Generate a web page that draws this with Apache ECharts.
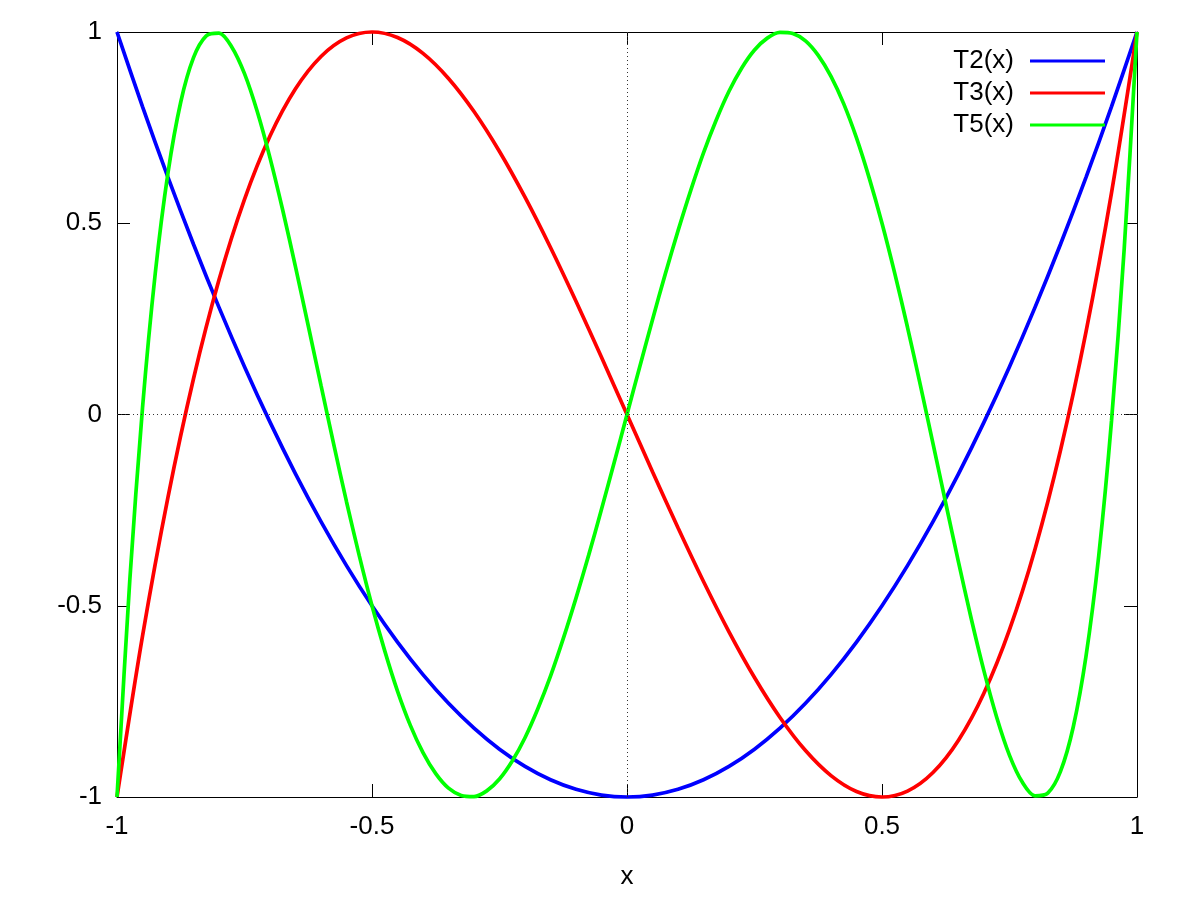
<!DOCTYPE html>
<html>
<head>
<meta charset="utf-8">
<script src="https://cdn.jsdelivr.net/npm/echarts@6/dist/echarts.min.js"></script>
<style>html,body{margin:0;padding:0;background:#fff}#c{width:1200px;height:900px}</style>
</head>
<body>
<div id="c"></div>
<script>
// Sample positions (x) and values
const xCoarse = [-1,-0.95,-0.9,-0.85,-0.8,-0.75,-0.7,-0.65,-0.6,-0.55,-0.5,-0.45,-0.4,-0.35,-0.3,-0.25,-0.2,-0.15,-0.1,-0.05,0,
  0.05,0.1,0.15,0.2,0.25,0.3,0.35,0.4,0.45,0.5,0.55,0.6,0.65,0.7,0.75,0.8,0.85,0.9,0.95,1];
const t2Values = [1,0.805,0.62,0.445,0.28,0.125,-0.02,-0.155,-0.28,-0.395,-0.5,-0.595,-0.68,-0.755,-0.82,-0.875,-0.92,-0.955,-0.98,-0.995,-1,
  -0.995,-0.98,-0.955,-0.92,-0.875,-0.82,-0.755,-0.68,-0.595,-0.5,-0.395,-0.28,-0.155,-0.02,0.125,0.28,0.445,0.62,0.805,1];
const t3Values = [-1,-0.5795,-0.216,0.0935,0.352,0.5625,0.728,0.8515,0.936,0.9845,1,0.9855,0.944,0.8785,0.792,0.6875,0.568,0.4365,0.296,0.1495,0,
  -0.1495,-0.296,-0.4365,-0.568,-0.6875,-0.792,-0.8785,-0.944,-0.9855,-1,-0.9845,-0.936,-0.8515,-0.728,-0.5625,-0.352,-0.0935,0.216,0.5795,1];
const xFine = [-1,-0.975,-0.95,-0.925,-0.9,-0.875,-0.85,-0.825,-0.8,-0.775,-0.75,-0.725,-0.7,-0.675,-0.65,-0.625,-0.6,-0.575,-0.55,-0.525,
  -0.5,-0.475,-0.45,-0.425,-0.4,-0.375,-0.35,-0.325,-0.3,-0.275,-0.25,-0.225,-0.2,-0.175,-0.15,-0.125,-0.1,-0.075,-0.05,-0.025,0,
  0.025,0.05,0.075,0.1,0.125,0.15,0.175,0.2,0.225,0.25,0.275,0.3,0.325,0.35,0.375,0.4,0.425,0.45,0.475,
  0.5,0.525,0.55,0.575,0.6,0.625,0.65,0.675,0.7,0.725,0.75,0.775,0.8,0.825,0.85,0.875,0.9,0.925,0.95,0.975,1];
const t5Values = [-1,-0.435,0.017,0.369,0.632,0.817,0.933,0.990,0.997,0.961,0.891,0.792,0.671,0.534,0.386,0.232,0.076,-0.078,-0.228,-0.369,
  -0.5,-0.618,-0.723,-0.812,-0.884,-0.939,-0.977,-0.996,-0.999,-0.984,-0.953,-0.906,-0.845,-0.770,-0.684,-0.586,-0.480,-0.367,-0.248,-0.125,0,
  0.125,0.248,0.367,0.480,0.586,0.684,0.770,0.845,0.906,0.953,0.984,0.999,0.996,0.977,0.939,0.884,0.812,0.723,0.618,
  0.5,0.369,0.228,0.078,-0.076,-0.232,-0.386,-0.534,-0.671,-0.792,-0.891,-0.961,-0.997,-0.990,-0.933,-0.817,-0.632,-0.369,-0.017,0.435,1];
const seriesNames = ['T2(x)','T3(x)','T5(x)'];
const xTicks = [-1,-0.5,0,0.5,1];

const pair = (xs, ys) => xs.map((x, i) => [x, ys[i]]);
const FONT = '"Liberation Sans", Arial, sans-serif';
const chart = echarts.init(document.getElementById('c'), null, {renderer: 'canvas'});

const baseAxis = {
  type: 'value', min: -1, max: 1, interval: 0.5,
  axisLine: {show: true, onZero: false, lineStyle: {color: '#000', width: 1}},
  axisTick: {show: true, inside: true, length: 13, lineStyle: {color: '#000', width: 1}},
  splitLine: {show: false}
};

chart.setOption({
  animation: false,
  backgroundColor: '#fff',
  textStyle: {fontFamily: FONT},
  grid: {left: 117, right: 63, top: 32, bottom: 103, containLabel: false},
  legend: {
    data: seriesNames,
    orient: 'vertical',
    right: 95, top: 48,
    align: 'right',
    icon: 'rect',
    itemWidth: 75, itemHeight: 3,
    itemGap: 6,
    padding: 0,
    textStyle: {fontSize: 26, color: '#000', fontFamily: FONT, lineHeight: 26, padding: [0, 11, 0, 0]}
  },
  xAxis: [
    Object.assign({}, baseAxis, {
      position: 'bottom',
      name: 'x', nameLocation: 'middle', nameGap: 67,
      nameTextStyle: {fontSize: 26, color: '#000', fontFamily: FONT},
      axisLabel: {fontSize: 26, color: '#000', margin: 17, fontFamily: FONT,
        formatter: v => { const t = xTicks.find(k => Math.abs(k - v) < 1e-9); return t === undefined ? '' : String(t); }}
    }),
    Object.assign({}, baseAxis, {position: 'top', axisLabel: {show: false}})
  ],
  yAxis: [
    Object.assign({}, baseAxis, {
      position: 'left',
      axisLabel: {fontSize: 26, color: '#000', margin: 15, fontFamily: FONT}
    }),
    Object.assign({}, baseAxis, {position: 'right', axisLabel: {show: false}})
  ],
  series: [
    {
      name: seriesNames[0], type: 'line', xAxisIndex: 0, yAxisIndex: 0,
      data: pair(xCoarse, t2Values), showSymbol: false, smooth: 0.3, clip: false,
      lineStyle: {color: '#0000ff', width: 3.7}, itemStyle: {color: '#0000ff'},
      markLine: {
        silent: true, symbol: ['none', 'none'], label: {show: false},
        lineStyle: {color: '#333', width: 1, type: [1, 3]},
        data: [{xAxis: 0}, {yAxis: 0}]
      }
    },
    {
      name: seriesNames[1], type: 'line', xAxisIndex: 0, yAxisIndex: 0,
      data: pair(xCoarse, t3Values), showSymbol: false, smooth: 0.3, clip: false,
      lineStyle: {color: '#ff0000', width: 3.7}, itemStyle: {color: '#ff0000'}
    },
    {
      name: seriesNames[2], type: 'line', xAxisIndex: 0, yAxisIndex: 0,
      data: pair(xFine, t5Values), showSymbol: false, smooth: 0.3, clip: false,
      lineStyle: {color: '#00ff00', width: 3.7}, itemStyle: {color: '#00ff00'}
    }
  ]
});
</script>
</body>
</html>
